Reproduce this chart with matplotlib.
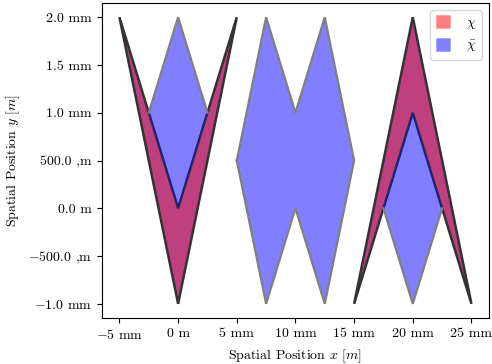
import matplotlib
matplotlib.use('Agg')
import matplotlib.pyplot as plt
from matplotlib.patches import Polygon

plt.rcParams['font.family'] = 'serif'
plt.rcParams['font.serif'] = ['cmr10']
plt.rcParams['mathtext.fontset'] = 'cm'
plt.rcParams['axes.unicode_minus'] = False
plt.rcParams['font.size'] = 10

mm = 1e-3

# set chi (red): two chevrons, vertices in mm
chi_shapes = [
    [(-5, 2), (0, -1), (5, 2), (0, 0)],
    [(15, -1), (20, 2), (25, -1), (20, 1)],
]
# set chi-bar (blue): covers the chevrons plus these pieces
chibar_pieces = [
    [(0, 2), (2.5, 1), (0, 0), (-2.5, 1)],
    [(5, 0.5), (7.5, 2), (10, 1), (12.5, 2), (15, 0.5), (12.5, -1), (10, 0), (7.5, -1)],
    [(20, 1), (22.5, 0), (20, -1), (17.5, 0)],
]
# boundary of chi-bar that is not shared with chi
chibar_edges = [
    [(-2.5, 1), (0, 2), (2.5, 1)],
    [(5, 0.5), (7.5, 2), (10, 1), (12.5, 2), (15, 0.5), (12.5, -1), (10, 0), (7.5, -1), (5, 0.5)],
    [(17.5, 0), (20, -1), (22.5, 0)],
]

xticks = [-5, 0, 5, 10, 15, 20, 25]
xticklabels = [r'$-$5 mm', '0 m', '5 mm', '10 mm', '15 mm', '20 mm', '25 mm']
yticks = [-1.0, -0.5, 0.0, 0.5, 1.0, 1.5, 2.0]
yticklabels = [r'$-$1.0 mm', r'$-$500.0 ,m', '0.0 m', '500.0 ,m', '1.0 mm', '1.5 mm', '2.0 mm']


def scaled(pts):
    return [(x * mm, y * mm) for x, y in pts]


fig, ax = plt.subplots(figsize=(4.92, 3.64), dpi=100)
fig.subplots_adjust(left=0.207, right=0.994, top=0.992, bottom=0.126)

# blue under the red chevrons
for pts in chi_shapes:
    ax.add_patch(Polygon(scaled(pts), closed=True, facecolor='blue', edgecolor='blue',
                         alpha=0.5, linestyle=':', lw=0.5, zorder=1))
# red chevrons
for i, pts in enumerate(chi_shapes):
    ax.add_patch(Polygon(scaled(pts), closed=True, facecolor='red', edgecolor='red',
                         alpha=0.5, linestyle=':', lw=0.5, zorder=2,
                         label=r'$\chi$' if i == 0 else None))
# dark outlines of red chevrons
for pts in chi_shapes:
    ax.add_patch(Polygon(scaled(pts), closed=True, fill=False, edgecolor='#333333',
                         lw=1.8, zorder=3))
# remaining blue pieces on top
for i, pts in enumerate(chibar_pieces):
    ax.add_patch(Polygon(scaled(pts), closed=True, facecolor='blue', edgecolor='blue',
                         alpha=0.5, linestyle=':', lw=0.5, zorder=4,
                         label=r'$\bar{\chi}$' if i == 0 else None))
# gray outline of blue set
for pts in chibar_edges:
    xs, ys = zip(*scaled(pts))
    ax.plot(xs, ys, color='#808080', lw=1.6, zorder=5, solid_joinstyle='miter')

ax.autoscale_view()
ax.set_xticks([t * mm for t in xticks])
ax.set_xticklabels(xticklabels)
ax.set_yticks([t * mm for t in yticks])
ax.set_yticklabels(yticklabels)

ax.set_xlabel(r'Spatial Position $x$ $[m]$')
ax.set_ylabel(r'Spatial Position $y$ $[m]$')
ax.legend(loc='upper right', handlelength=1.0, handleheight=1.0, handletextpad=1.2)

fig.savefig('out.png')
